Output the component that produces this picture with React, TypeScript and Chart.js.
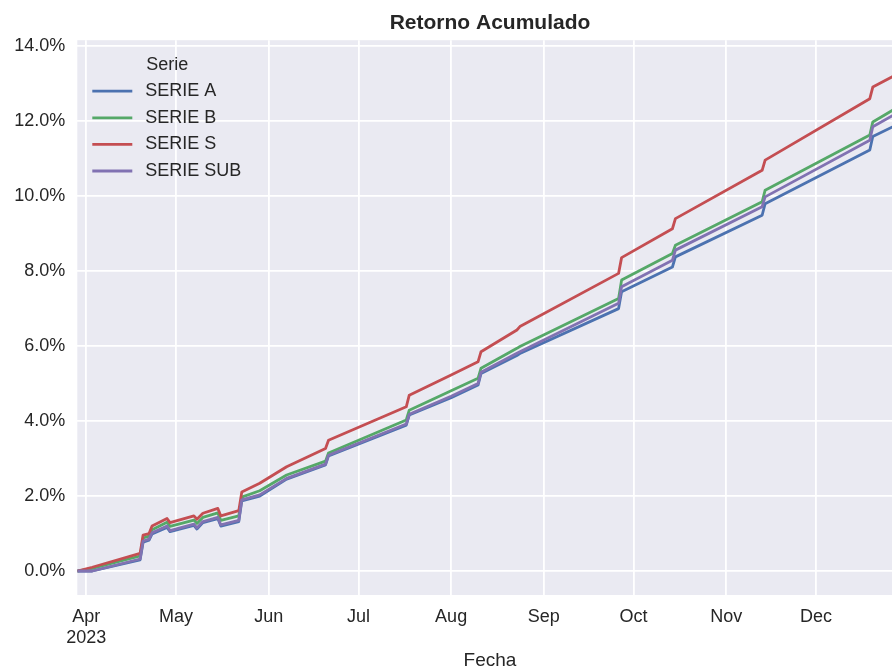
import React, { useEffect, useRef } from "react";
import { Chart, registerables } from "chart.js";

Chart.register(...registerables);

const FONT = "'Liberation Sans', Arial, sans-serif";
const TEXT = "#262626";

// ---- data (cumulative return, %) ----
const dates = [
  "2023-03-29", "2023-04-03", "2023-04-19", "2023-04-20", "2023-04-22", "2023-04-23",
  "2023-04-28", "2023-04-29", "2023-05-07", "2023-05-08", "2023-05-10", "2023-05-15",
  "2023-05-16", "2023-05-22", "2023-05-23", "2023-05-29", "2023-06-07", "2023-06-20",
  "2023-06-21", "2023-07-17", "2023-07-18", "2023-08-01", "2023-08-10", "2023-08-11",
  "2023-08-23", "2023-08-24", "2023-09-26", "2023-09-27", "2023-10-14", "2023-10-15",
  "2023-11-13", "2023-11-14", "2023-12-19", "2023-12-20", "2023-12-30",
];
const serieA = [
  0.0, 0.0, 0.30, 0.77, 0.82, 0.99,
  1.16, 1.05, 1.22, 1.12, 1.29, 1.40,
  1.20, 1.32, 1.87, 2.00, 2.45, 2.83,
  3.07, 3.89, 4.16, 4.62, 4.96, 5.27,
  5.75, 5.80, 7.00, 7.45, 8.11, 8.38,
  9.49, 9.80, 11.23, 11.59, 11.98,
];
const serieB = [
  0.0, 0.07, 0.40, 0.88, 0.93, 1.10,
  1.30, 1.19, 1.36, 1.27, 1.43, 1.55,
  1.35, 1.47, 1.97, 2.14, 2.56, 2.93,
  3.15, 4.03, 4.29, 4.81, 5.14, 5.41,
  5.94, 5.99, 7.27, 7.76, 8.47, 8.69,
  9.85, 10.16, 11.63, 11.98, 12.45,
];
const serieS = [
  0.0, 0.10, 0.47, 0.96, 1.00, 1.20,
  1.40, 1.29, 1.47, 1.38, 1.54, 1.67,
  1.47, 1.61, 2.11, 2.34, 2.78, 3.27,
  3.49, 4.38, 4.69, 5.23, 5.58, 5.85,
  6.43, 6.52, 7.94, 8.36, 9.13, 9.40,
  10.69, 10.96, 12.60, 12.91, 13.33,
];
const serieSub = [
  0.0, 0.0, 0.32, 0.80, 0.85, 1.02,
  1.20, 1.08, 1.25, 1.15, 1.32, 1.43,
  1.23, 1.35, 1.90, 2.03, 2.47, 2.85,
  3.09, 3.92, 4.18, 4.66, 5.00, 5.30,
  5.81, 5.85, 7.14, 7.58, 8.29, 8.56,
  9.72, 9.98, 11.49, 11.85, 12.30,
];
const seriesNames = ["SERIE A", "SERIE B", "SERIE S", "SERIE SUB"];
const seriesColors = ["#4C72B0", "#55A868", "#C44E52", "#8172B2"];

const monthTickDates = [
  "2023-04-01", "2023-05-01", "2023-06-01", "2023-07-01", "2023-08-01",
  "2023-09-01", "2023-10-01", "2023-11-01", "2023-12-01",
];
const monthTickLabels: (string | string[])[] = [
  ["Apr", "2023"], "May", "Jun", "Jul", "Aug", "Sep", "Oct", "Nov", "Dec",
];
const yTicks = [0, 2, 4, 6, 8, 10, 12, 14];
const xStart = "2023-03-29";
const xEnd = "2023-12-30";
const yMin = -0.64;
const yMax = 14.16;

const BASE = Date.UTC(2023, 3, 1);
const toDay = (s: string) => {
  const [y, m, d] = s.split("-").map(Number);
  return (Date.UTC(y, m - 1, d) - BASE) / 86400000;
};

const bgPlugin = {
  id: "axesBg",
  beforeDraw(chart: any) {
    const { ctx, chartArea: ca } = chart;
    ctx.save();
    ctx.fillStyle = "#ffffff";
    ctx.fillRect(0, 0, chart.width, chart.height);
    ctx.fillStyle = "#EAEAF2";
    ctx.fillRect(ca.left, ca.top, ca.right - ca.left, ca.bottom - ca.top);
    ctx.restore();
  },
};

const legendPlugin = {
  id: "serieLegend",
  afterDatasetsDraw(chart: any) {
    const { ctx, chartArea: ca } = chart;
    ctx.save();
    ctx.font = `18px ${FONT}`;
    ctx.fillStyle = TEXT;
    ctx.textBaseline = "middle";
    ctx.textAlign = "center";
    ctx.fillText("Serie", ca.left + 90, ca.top + 25);
    ctx.textAlign = "left";
    chart.data.datasets.forEach((ds: any, i: number) => {
      const y = ca.top + 51 + i * 26.6;
      ctx.strokeStyle = ds.borderColor;
      ctx.lineWidth = 2.8;
      ctx.beginPath();
      ctx.moveTo(ca.left + 15, y);
      ctx.lineTo(ca.left + 55, y);
      ctx.stroke();
      ctx.fillStyle = TEXT;
      ctx.fillText(ds.label, ca.left + 68, y);
    });
    ctx.restore();
  },
};

export default function App() {
  const ref = useRef<HTMLCanvasElement | null>(null);

  useEffect(() => {
    if (!ref.current) return;
    const values = [serieA, serieB, serieS, serieSub];
    const datasets = values.map((vals, k) => ({
      label: seriesNames[k],
      data: dates.map((d, i) => ({ x: toDay(d), y: vals[i] })),
      borderColor: seriesColors[k],
      backgroundColor: seriesColors[k],
      borderWidth: 2.8,
      pointRadius: 0,
      tension: 0,
      borderJoinStyle: "round" as const,
      order: 4 - k,
    }));

    const chart = new Chart(ref.current, {
      type: "line",
      data: { datasets },
      plugins: [bgPlugin, legendPlugin],
      options: {
        responsive: false,
        animation: false,
        layout: { padding: { left: 0, right: 25.3, top: 0, bottom: 0 } },
        plugins: {
          legend: { display: false },
          tooltip: { enabled: false },
          title: {
            display: true,
            text: "Retorno Acumulado",
            fullSize: false,
            color: TEXT,
            font: { family: FONT, size: 21, weight: "bold" },
            padding: { top: 3, bottom: 4 },
          },
        },
        scales: {
          x: {
            type: "linear",
            min: toDay(xStart),
            max: toDay(xEnd),
            grid: { color: "#ffffff", lineWidth: 1.8, drawTicks: false },
            border: { display: false },
            afterBuildTicks: (s: any) => {
              s.ticks = monthTickDates.map((d) => ({ value: toDay(d) }));
            },
            afterFit: (s: any) => {
              s.height = 75;
            },
            ticks: {
              padding: 11,
              maxRotation: 0,
              autoSkip: false,
              color: TEXT,
              font: { family: FONT, size: 18 },
              callback: (_v: any, i: number) => monthTickLabels[i],
            },
            title: {
              display: true,
              text: "Fecha",
              color: TEXT,
              font: { family: FONT, size: 19, lineHeight: 1.0 },
              padding: { top: 0, bottom: 0 },
            },
          },
          y: {
            type: "linear",
            min: yMin,
            max: yMax,
            grid: { color: "#ffffff", lineWidth: 1.8, drawTicks: false },
            border: { display: false },
            afterBuildTicks: (s: any) => {
              s.ticks = yTicks.map((v) => ({ value: v }));
            },
            afterFit: (s: any) => {
              s.width = 69.3;
            },
            ticks: {
              padding: 12,
              color: TEXT,
              font: { family: FONT, size: 18 },
              callback: (v: any) => Number(v).toFixed(1) + "%",
            },
          },
        },
      } as any,
    });
    return () => chart.destroy();
  }, []);

  return (
    <div
      style={{
        position: "fixed",
        left: 8,
        top: 8,
        width: 884,
        height: 662,
        overflow: "hidden",
        background: "#ffffff",
      }}
    >
      <canvas ref={ref} width={920} height={662} style={{ display: "block", width: 920, height: 662 }} />
    </div>
  );
}
